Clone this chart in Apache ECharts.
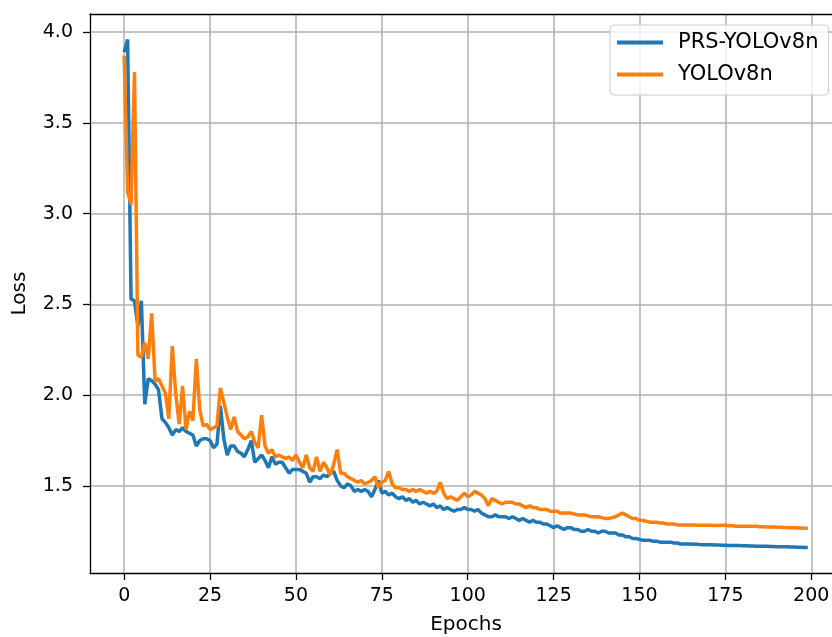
<!DOCTYPE html>
<html>
<head>
<meta charset="utf-8">
<script src="https://cdn.jsdelivr.net/npm/echarts@6/dist/echarts.min.js"></script>
<style>
html,body{margin:0;padding:0;background:#fff;}
#chart{width:832px;height:637px;}
</style>
</head>
<body>
<div id="chart"></div>
<script>
const seriesNames = ['PRS-YOLOv8n', 'YOLOv8n'];
const xTicks = [0, 25, 50, 75, 100, 125, 150, 175, 200];
const yTicks = [1.5, 2.0, 2.5, 3.0, 3.5, 4.0];

const prsLoss = [
 3.89,3.96,2.53,2.52,2.38,2.52,1.95,2.09,2.08,2.06,
 2.03,1.87,1.85,1.82,1.78,1.81,1.80,1.82,1.80,1.79,
 1.78,1.72,1.75,1.76,1.76,1.75,1.71,1.73,1.94,1.76,
 1.67,1.72,1.72,1.69,1.68,1.66,1.70,1.75,1.63,1.65,
 1.67,1.64,1.60,1.66,1.62,1.63,1.63,1.60,1.57,1.59,
 1.59,1.59,1.58,1.57,1.52,1.55,1.55,1.54,1.56,1.55,
 1.57,1.58,1.53,1.50,1.49,1.51,1.50,1.47,1.48,1.47,
 1.48,1.47,1.44,1.48,1.53,1.46,1.47,1.45,1.46,1.44,
 1.43,1.44,1.42,1.43,1.41,1.42,1.40,1.41,1.40,1.39,
 1.40,1.38,1.39,1.37,1.38,1.37,1.36,1.37,1.37,1.38,
 1.37,1.37,1.36,1.37,1.35,1.34,1.33,1.33,1.34,1.33,
 1.33,1.33,1.32,1.33,1.32,1.31,1.32,1.31,1.30,1.31,
 1.30,1.30,1.29,1.29,1.28,1.27,1.28,1.27,1.26,1.27,
 1.27,1.26,1.26,1.25,1.25,1.26,1.25,1.25,1.24,1.25,
 1.25,1.24,1.24,1.24,1.23,1.23,1.22,1.22,1.21,1.21,
 1.205,1.20,1.20,1.20,1.195,1.195,1.19,1.19,1.19,1.19,
 1.185,1.185,1.18,1.18,1.18,1.18,1.178,1.178,1.175,1.175,
 1.175,1.175,1.174,1.174,1.173,1.173,1.172,1.172,1.171,1.171,
 1.170,1.170,1.169,1.169,1.168,1.168,1.167,1.167,1.166,1.166,
 1.165,1.165,1.164,1.164,1.163,1.163,1.162,1.162,1.161,1.161
];

const yoloLoss = [
 3.87,3.12,3.05,3.78,2.22,2.21,2.29,2.20,2.45,2.08,
 2.09,2.05,2.01,1.87,2.27,2.01,1.84,2.05,1.81,1.91,
 1.86,2.20,1.92,1.83,1.84,1.81,1.82,1.83,2.04,1.96,
 1.88,1.81,1.88,1.80,1.78,1.76,1.77,1.80,1.74,1.71,
 1.89,1.72,1.68,1.70,1.66,1.67,1.66,1.65,1.66,1.64,
 1.67,1.63,1.60,1.67,1.60,1.58,1.66,1.58,1.63,1.60,
 1.56,1.62,1.70,1.57,1.57,1.55,1.54,1.53,1.52,1.53,
 1.51,1.52,1.53,1.55,1.49,1.52,1.53,1.58,1.51,1.49,
 1.49,1.48,1.48,1.47,1.48,1.47,1.48,1.47,1.46,1.47,
 1.46,1.47,1.52,1.46,1.43,1.44,1.43,1.42,1.44,1.46,
 1.44,1.45,1.47,1.46,1.45,1.43,1.39,1.43,1.42,1.41,
 1.40,1.41,1.41,1.41,1.40,1.40,1.39,1.38,1.39,1.38,
 1.38,1.37,1.37,1.37,1.36,1.36,1.36,1.35,1.35,1.35,
 1.35,1.345,1.34,1.34,1.34,1.335,1.33,1.33,1.33,1.325,
 1.32,1.32,1.325,1.33,1.34,1.35,1.34,1.33,1.32,1.32,
 1.31,1.31,1.305,1.30,1.30,1.30,1.295,1.295,1.29,1.29,
 1.29,1.285,1.285,1.285,1.285,1.285,1.285,1.283,1.283,1.283,
 1.283,1.283,1.282,1.282,1.283,1.283,1.28,1.28,1.278,1.278,
 1.278,1.277,1.277,1.278,1.278,1.275,1.275,1.274,1.274,1.273,
 1.272,1.272,1.271,1.27,1.27,1.269,1.268,1.268,1.267,1.267
];

const toPairs = arr => arr.map((v, i) => [i, v]);
const FONT = 'DejaVu Sans';
const axisLineStyle = {color: '#000', width: 1.3};

const chart = echarts.init(document.getElementById('chart'), null, {renderer: 'canvas'});
chart.setOption({
  animation: false,
  backgroundColor: '#fff',
  grid: {
    left: 90, top: 14, right: -10, bottom: 64,
    containLabel: false, outerBoundsMode: 'none', show: false
  },
  legend: {
    data: seriesNames.map(n => ({name: n, icon: 'rect'})),
    orient: 'vertical',
    left: 610, top: 25,
    itemWidth: 46, itemHeight: 4,
    itemGap: 11,
    padding: [7, 10, 10, 7],
    backgroundColor: 'rgba(255,255,255,0.8)',
    borderColor: '#cccccc', borderWidth: 1, borderRadius: 4,
    textStyle: {fontFamily: FONT, fontSize: 21, color: '#000', padding: [0, 0, 0, 10]}
  },
  xAxis: [{
    type: 'value',
    min: -9.95, max: 208.95,
    name: 'Epochs', nameLocation: 'middle', nameGap: 42,
    nameTextStyle: {fontFamily: FONT, fontSize: 20, color: '#000'},
    axisLine: {show: true, onZero: false, lineStyle: axisLineStyle},
    axisTick: {show: true, customValues: xTicks, length: 7, lineStyle: axisLineStyle},
    axisLabel: {customValues: xTicks, margin: 14, fontFamily: FONT, fontSize: 19, color: '#000'},
    splitLine: {show: true, lineStyle: {color: '#b0b0b0', width: 1.5}}
  }, {
    type: 'value', position: 'top',
    min: -9.95, max: 208.95,
    axisLine: {show: true, onZero: false, lineStyle: axisLineStyle},
    axisTick: {show: false}, axisLabel: {show: false}, splitLine: {show: false}
  }],
  yAxis: {
    type: 'value',
    min: 1.02, max: 4.10,
    name: 'Loss', nameLocation: 'middle', nameGap: 60,
    nameTextStyle: {fontFamily: FONT, fontSize: 20, color: '#000'},
    axisLine: {show: true, onZero: false, lineStyle: axisLineStyle},
    axisTick: {show: true, customValues: yTicks, length: 7, lineStyle: axisLineStyle},
    axisLabel: {customValues: yTicks, margin: 17, fontFamily: FONT, fontSize: 19, color: '#000',
      formatter: v => v.toFixed(1)},
    splitLine: {show: true, lineStyle: {color: '#b0b0b0', width: 1.5}}
  },
  series: [
    {name: seriesNames[0], type: 'line', data: toPairs(prsLoss), showSymbol: false,
     color: '#1f77b4', lineStyle: {width: 3.5, color: '#1f77b4'}, z: 2},
    {name: seriesNames[1], type: 'line', data: toPairs(yoloLoss), showSymbol: false,
     color: '#ff7f0e', lineStyle: {width: 3.5, color: '#ff7f0e'}, z: 3}
  ]
});
</script>
</body>
</html>
